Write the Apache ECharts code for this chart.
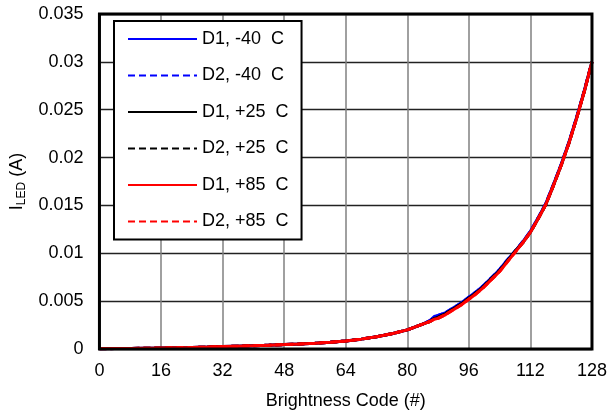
<!DOCTYPE html>
<html><head><meta charset="utf-8">
<script src="https://cdn.jsdelivr.net/npm/echarts@6/dist/echarts.min.js"></script>
<style>html,body{margin:0;padding:0;background:#fff}#c{width:610px;height:415px}</style>
</head><body><div id="c"></div>
<script>
var codes = [0,4,8,12,16,20,24,28,32,36,40,44,48,52,56,60,64,68,72,76,80,84,86,87,88,90,92,94,96,98,100,102,104,106,108,110,112,114,116,118,120,122,124,126,128];
var d1m40 = [0.00002,0.00004,0.00006,0.00008,0.0001,0.00013,0.00016,0.0002,0.00025,0.0003,0.00035,0.0004,0.00046,0.00053,0.00061,0.00071,0.00084,0.00103,0.00128,0.0016,0.002,0.0026,0.0030,0.0034,0.0035,0.0038,0.0043,0.0048,0.0054,0.0060,0.0067,0.0075,0.0083,0.0093,0.0102,0.0112,0.0123,0.0137,0.0152,0.0172,0.0193,0.0216,0.0242,0.0270,0.0300];
var d2m40 = [0.00002,0.00004,0.00006,0.00008,0.0001,0.00013,0.00016,0.0002,0.00025,0.0003,0.00035,0.0004,0.00046,0.00053,0.00061,0.00071,0.00084,0.00103,0.00128,0.0016,0.002,0.0026,0.0030,0.0033,0.0035,0.0038,0.0043,0.0048,0.0054,0.0060,0.0067,0.0075,0.0083,0.0093,0.0102,0.0112,0.0123,0.0137,0.0152,0.0172,0.0193,0.0216,0.0242,0.0270,0.0300];
var d1p25 = [0.00002,0.00004,0.00006,0.00008,0.0001,0.00013,0.00016,0.0002,0.00025,0.0003,0.00035,0.0004,0.00046,0.00053,0.00061,0.00071,0.00084,0.00103,0.00128,0.0016,0.002,0.0026,0.0029,0.0032,0.0033,0.0037,0.0042,0.0047,0.0053,0.0059,0.0066,0.0074,0.0082,0.0092,0.0102,0.0111,0.0122,0.0136,0.0151,0.0171,0.0192,0.0215,0.0241,0.0269,0.0300];
var d2p25 = [0.00002,0.00004,0.00006,0.00008,0.0001,0.00013,0.00016,0.0002,0.00025,0.0003,0.00035,0.0004,0.00046,0.00053,0.00061,0.00071,0.00084,0.00103,0.00128,0.0016,0.002,0.0026,0.0029,0.0032,0.0033,0.0037,0.0042,0.0047,0.0053,0.0059,0.0066,0.0074,0.0082,0.0092,0.0102,0.0111,0.0122,0.0136,0.0151,0.0171,0.0192,0.0215,0.0241,0.0269,0.0300];
var d1p85 = [0.00002,0.00004,0.00006,0.00008,0.0001,0.00013,0.00016,0.0002,0.00025,0.0003,0.00035,0.0004,0.00046,0.00053,0.00061,0.00071,0.00084,0.00103,0.00128,0.0016,0.002,0.0026,0.0029,0.0031,0.0032,0.0036,0.0041,0.0046,0.0052,0.0058,0.0065,0.0073,0.0081,0.0091,0.0101,0.0111,0.0122,0.0136,0.0151,0.0171,0.0192,0.0215,0.0241,0.0269,0.0300];
var d2p85 = [0.00002,0.00004,0.00006,0.00008,0.0001,0.00013,0.00016,0.0002,0.00025,0.0003,0.00035,0.0004,0.00046,0.00053,0.00061,0.00071,0.00084,0.00103,0.00128,0.0016,0.002,0.0026,0.0029,0.0031,0.0032,0.0036,0.0041,0.0046,0.0052,0.0058,0.0065,0.0073,0.0081,0.0091,0.0101,0.0111,0.0122,0.0136,0.0151,0.0171,0.0192,0.0215,0.0241,0.0269,0.0300];
var names = ['D1, -40  C','D2, -40  C','D1, +25  C','D2, +25  C','D1, +85  C','D2, +85  C'];
var colors = ['#0000ff','#0000ff','#000000','#000000','#ff0000','#ff0000'];
var dashed = [false,true,false,true,false,true];
var xTicks = {min:0, max:128, interval:16};
var yTicks = {min:0, max:0.035, interval:0.005};

var allData = [d1m40,d2m40,d1p25,d2p25,d1p85,d2p85];
function pairs(arr){ return codes.map(function(c,i){ return [c, arr[i]]; }); }
var FONT = 'Liberation Sans, Arial, sans-serif';
var FS = 18;
var series = allData.map(function(arr, k){
  return {
    name: names[k], type:'line', data: pairs(arr), showSymbol:false, symbol:'none',
    smooth: false, z: 2 + k,
    lineStyle: {color: colors[k], width: 3, type: dashed[k] ? [7,4] : 'solid'},
    itemStyle: {color: colors[k]}
  };
});
var chart = echarts.init(document.getElementById('c'), null, {renderer:'canvas'});
chart.setOption({
  animation:false,
  backgroundColor:'#fff',
  grid:{left:97, right:15, top:14, bottom:66, show:true, borderColor:'#000', borderWidth:3, backgroundColor:'transparent', z:10},
  legend:{
    orient:'vertical', left:114, top:21, width:188,
    backgroundColor:'#fff', borderColor:'#000', borderWidth:2,
    padding:[9,13,9,13], itemWidth:69, itemHeight:16, itemGap:18.5,
    lineStyle:{width:2},
    itemStyle:{opacity:0, borderWidth:0},
    textStyle:{fontFamily:FONT, fontSize:FS, color:'#000'},
    data: names
  },
  xAxis:{
    type:'value', min:xTicks.min, max:xTicks.max, interval:xTicks.interval,
    name:'Brightness Code (#)', nameLocation:'middle', nameGap:43,
    nameTextStyle:{fontFamily:FONT, fontSize:FS, color:'#000'},
    axisLine:{show:false}, axisTick:{show:false},
    axisLabel:{fontFamily:FONT, fontSize:FS, color:'#000', margin:13},
    splitLine:{show:true, lineStyle:{color:'#808080', width:1.5}}
  },
  yAxis:{
    type:'value', min:yTicks.min, max:yTicks.max, interval:yTicks.interval,
    name:'{a|I}{b|LED}{a| (A)}', nameLocation:'middle', nameGap:68,
    nameTextStyle:{fontFamily:FONT, fontSize:FS, color:'#000',
      rich:{a:{fontFamily:FONT, fontSize:FS, color:'#000'}, b:{fontFamily:FONT, fontSize:12, color:'#000', padding:[9,0,0,0]}}},
    axisLine:{show:false}, axisTick:{show:false},
    axisLabel:{fontFamily:FONT, fontSize:FS, color:'#000', margin:16,
      formatter:function(v){ return String(Number(v.toFixed(4))); }},
    splitLine:{show:true, lineStyle:{color:'#222', width:1.3}}
  },
  series: series
});
</script></body></html>
